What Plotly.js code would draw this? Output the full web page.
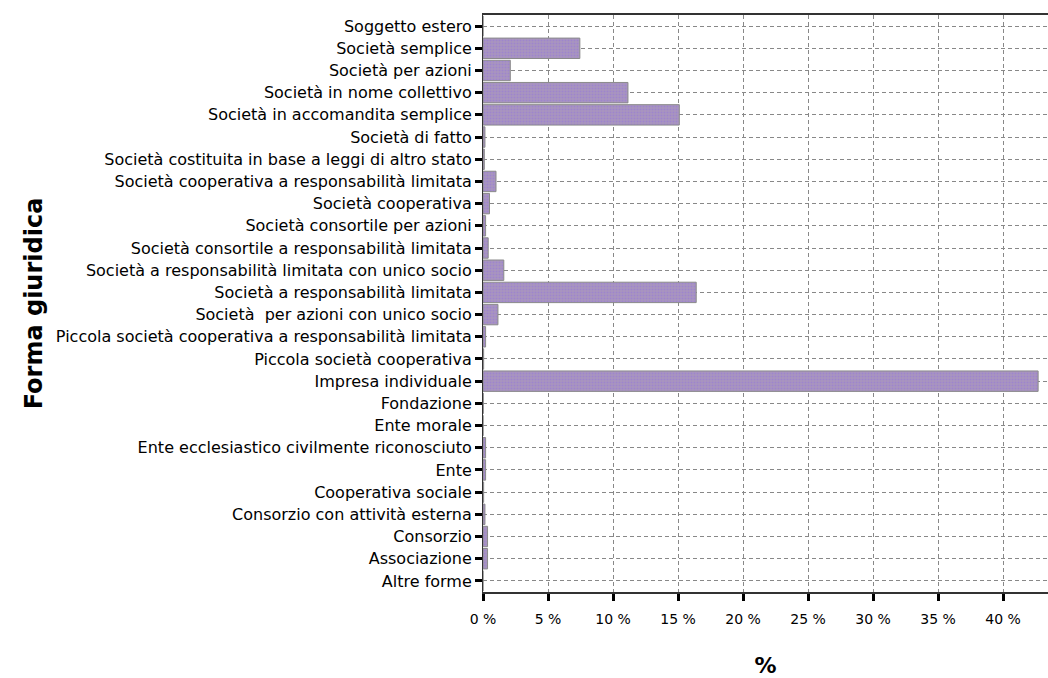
<!DOCTYPE html>
<html>
<head>
<meta charset="utf-8">
<script src="https://cdn.plot.ly/plotly-3.0.1.min.js"></script>
<style>html,body{margin:0;padding:0;background:#fff;}#chart{width:1048px;height:678px;}</style>
</head>
<body>
<div id="chart"></div>
<script>
const categories = [
  "Soggetto estero",
  "Società semplice",
  "Società per azioni",
  "Società in nome collettivo",
  "Società in accomandita semplice",
  "Società di fatto",
  "Società costituita in base a leggi di altro stato",
  "Società cooperativa a responsabilità limitata",
  "Società cooperativa",
  "Società consortile per azioni",
  "Società consortile a responsabilità limitata",
  "Società a responsabilità limitata con unico socio",
  "Società a responsabilità limitata",
  "Società  per azioni con unico socio",
  "Piccola società cooperativa a responsabilità limitata",
  "Piccola società cooperativa",
  "Impresa individuale",
  "Fondazione",
  "Ente morale",
  "Ente ecclesiastico civilmente riconosciuto",
  "Ente",
  "Cooperativa sociale",
  "Consorzio con attività esterna",
  "Consorzio",
  "Associazione",
  "Altre forme"
];
const percentValues = [
  0.0, 7.45, 2.1, 11.15, 15.1, 0.15, 0.1, 1.0, 0.5, 0.2, 0.4, 1.6, 16.4, 1.15,
  0.2, 0.05, 42.7, 0.02, 0.0, 0.2, 0.2, 0.05, 0.15, 0.35, 0.35, 0.0
];
const xTickVals = [0, 5, 10, 15, 20, 25, 30, 35, 40];
const xTickText = ["0 %", "5 %", "10 %", "15 %", "20 %", "25 %", "30 %", "35 %", "40 %"];

const trace = {
  type: "bar",
  orientation: "h",
  y: categories,
  x: percentValues,
  marker: {
    color: "#a996be",
    line: {color: "#8a8a8a", width: 1},
    pattern: {shape: ".", fillmode: "overlay", fgcolor: "#9474dc", size: 3, solidity: 0.4}
  },
  hoverinfo: "x+y"
};

const layout = {
  width: 1048,
  height: 678,
  margin: {l: 483, r: 0, t: 15, b: 86, pad: 0},
  paper_bgcolor: "#ffffff",
  plot_bgcolor: "#ffffff",
  bargap: 0.08,
  showlegend: false,
  font: {family: "DejaVu Sans, Verdana, sans-serif", size: 12, color: "#000"},
  xaxis: {
    range: [0, 43.46],
    tickvals: xTickVals,
    ticktext: xTickText,
    ticks: "outside",
    ticklen: 7,
    tickwidth: 3,
    tickcolor: "#000",
    ticklabelstandoff: 6,
    showgrid: true,
    gridcolor: "#888",
    griddash: "4px,3px",
    gridwidth: 1,
    showline: true,
    linecolor: "#333",
    linewidth: 2,
    mirror: true,
    zeroline: false,
    automargin: false,
    tickfont: {family: "DejaVu Sans, Verdana, sans-serif", size: 14},
    title: {text: "%", font: {family: "DejaVu Sans, Verdana, sans-serif", size: 22, weight: "bold"}, standoff: 33}
  },
  yaxis: {
    type: "category",
    range: [25.5, -0.5],
    ticks: "outside",
    ticklen: 7,
    tickwidth: 3,
    tickcolor: "#000",
    showgrid: true,
    gridcolor: "#888",
    griddash: "4px,3px",
    gridwidth: 1,
    showline: true,
    linecolor: "#333",
    linewidth: 1,
    zeroline: false,
    automargin: false,
    tickfont: {family: "DejaVu Sans, Verdana, sans-serif", size: 16},
    title: {text: "Forma giuridica", font: {family: "DejaVu Sans, Verdana, sans-serif", size: 24, weight: "bold"}, standoff: 6}
  }
};

Plotly.newPlot("chart", [trace], layout, {displayModeBar: false, staticPlot: true});
</script>
</body>
</html>
